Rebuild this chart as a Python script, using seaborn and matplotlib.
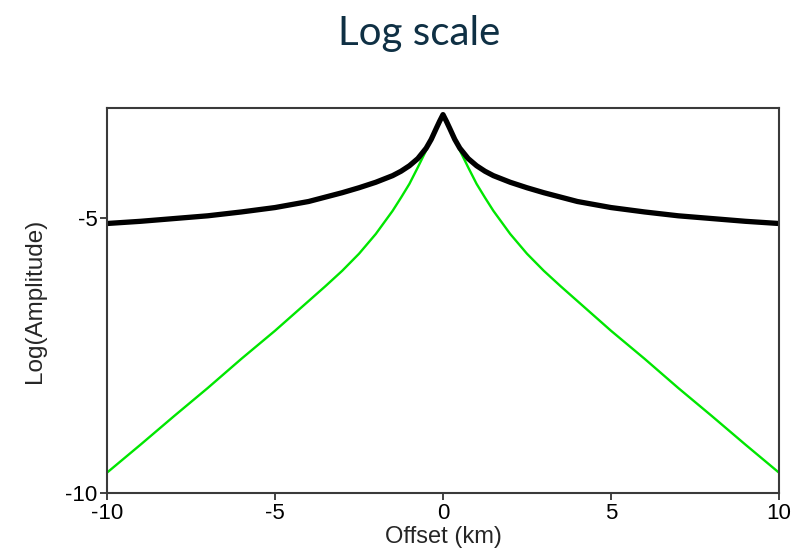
import matplotlib
matplotlib.use("Agg")
import matplotlib.pyplot as plt
import seaborn as sns
import pandas as pd

# Data (left half listed, right half listed explicitly)
offset_km = [-10, -9, -8, -7, -6, -5, -4, -3.5, -3, -2.5, -2, -1.5, -1.25, -1, -0.75, -0.5,
             -0.35, -0.2, -0.1, 0,
             0.1, 0.2, 0.35, 0.5, 0.75, 1, 1.25, 1.5, 2, 2.5, 3, 3.5, 4, 5, 6, 7, 8, 9, 10]
black_log_amp = [-5.10, -5.06, -5.01, -4.96, -4.89, -4.81, -4.70, -4.62, -4.54, -4.45, -4.35,
                 -4.23, -4.15, -4.05, -3.92, -3.73, -3.57, -3.37, -3.24, -3.12,
                 -3.24, -3.37, -3.57, -3.73, -3.92, -4.05, -4.15, -4.23, -4.35, -4.45, -4.54,
                 -4.62, -4.70, -4.81, -4.89, -4.96, -5.01, -5.06, -5.10]
green_log_amp = [-9.63, -9.12, -8.60, -8.09, -7.56, -7.05, -6.51, -6.24, -5.96, -5.65, -5.29,
                 -4.87, -4.63, -4.38, -4.08, -3.77, -3.57, -3.38, -3.26, -3.14,
                 -3.26, -3.38, -3.57, -3.77, -4.08, -4.38, -4.63, -4.87, -5.29, -5.65, -5.96,
                 -6.24, -6.51, -7.05, -7.56, -8.09, -8.60, -9.12, -9.63]
x_ticks = [-10, -5, 0, 5, 10]
y_ticks = [-10, -5]

sns.set_style("white")
plt.rcParams['font.family'] = ['Liberation Sans', 'DejaVu Sans']

fig = plt.figure(figsize=(7.96, 5.55), dpi=100)
ax = fig.add_axes([107/796, 1 - 493/555, (779 - 107)/796, (493 - 108)/555])

df = pd.DataFrame({"x": offset_km, "black": black_log_amp, "green": green_log_amp})
sns.lineplot(data=df, x="x", y="green", ax=ax, color="#00e600", linewidth=1.7,
             solid_joinstyle='round', solid_capstyle='round')
sns.lineplot(data=df, x="x", y="black", ax=ax, color="black", linewidth=3.8,
             solid_joinstyle='round', solid_capstyle='butt')

ax.set_xlim(-10, 10)
ax.set_ylim(-10, -3)
ax.set_xticks(x_ticks)
ax.set_yticks(y_ticks)
ax.set_xticklabels([str(t) for t in x_ticks])
ax.set_yticklabels([str(t) for t in y_ticks])
ax.tick_params(axis='both', which='both', direction='out', length=5, width=1.3,
               colors='#333333', labelcolor='black', labelsize=16, pad=2,
               left=True, bottom=True, top=False, right=False)
for s in ax.spines.values():
    s.set_color('#3a3a3a')
    s.set_linewidth(1.5)
ax.set_xlabel("Offset (km)", fontsize=17, labelpad=2)
ax.set_ylabel("Log(Amplitude)", fontsize=17.5, labelpad=14)

fig.text(0.526, 0.94, "Log scale", ha='center', va='center', fontsize=29,
         color='#0f3044', family=['Lato', 'DejaVu Sans'])

fig.savefig("out.png", dpi=100)
